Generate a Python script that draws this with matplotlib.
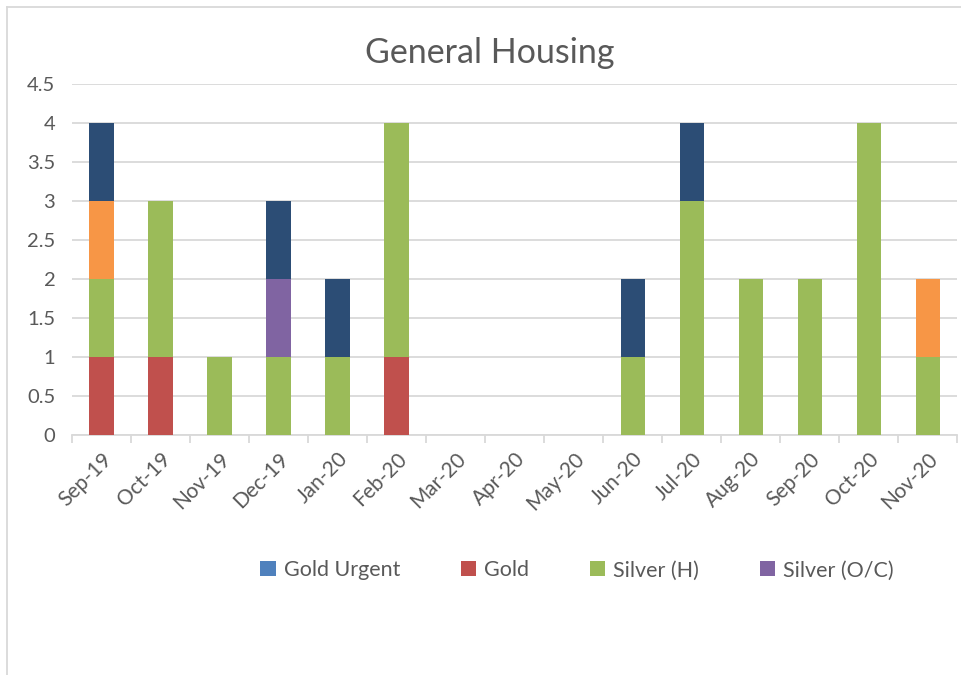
import matplotlib.pyplot as plt
import numpy as np
from matplotlib.lines import Line2D

plt.rcParams['font.family'] = ['Lato', 'DejaVu Sans']

months = ['Sep-19', 'Oct-19', 'Nov-19', 'Dec-19', 'Jan-20', 'Feb-20', 'Mar-20', 'Apr-20',
          'May-20', 'Jun-20', 'Jul-20', 'Aug-20', 'Sep-20', 'Oct-20', 'Nov-20']
gold_urgent = [0, 0, 0, 0, 0, 0, 0, 0, 0, 0, 0, 0, 0, 0, 0]
gold        = [1, 1, 0, 0, 0, 1, 0, 0, 0, 0, 0, 0, 0, 0, 0]
silver_h    = [1, 2, 1, 1, 1, 3, 0, 0, 0, 1, 3, 2, 2, 4, 1]
silver_oc   = [0, 0, 0, 1, 0, 0, 0, 0, 0, 0, 0, 0, 0, 0, 0]
orange_vals = [1, 0, 0, 0, 0, 0, 0, 0, 0, 0, 0, 0, 0, 0, 1]
navy_vals   = [1, 0, 0, 1, 1, 0, 0, 0, 0, 1, 1, 0, 0, 0, 0]

series = [
    ('Gold Urgent', gold_urgent, '#4F81BD'),
    ('Gold', gold, '#C0504D'),
    ('Silver (H)', silver_h, '#9BBB59'),
    ('Silver (O/C)', silver_oc, '#8064A2'),
    ('_nolegend_', orange_vals, '#F79646'),
    ('_nolegend_', navy_vals, '#2C4D75'),
]

fig = plt.figure(figsize=(9.62, 6.75), dpi=100)
ax = fig.add_axes([0.0748, 0.3556, 0.9202, 0.52])

x = np.arange(len(months))
bottom = np.zeros(len(months))
for name, vals, col in series:
    vals = np.array(vals, dtype=float)
    ax.bar(x, vals, width=0.41, bottom=bottom, color=col, label=name, zorder=3)
    bottom += vals

ax.set_xlim(-0.5, len(months) - 0.5)
ax.set_ylim(0, 4.5)
ax.set_yticks(np.arange(0, 4.51, 0.5))
ax.set_yticklabels(['0', '0.5', '1', '1.5', '2', '2.5', '3', '3.5', '4', '4.5'])
ax.grid(axis='y', color='#D9D9D9', linewidth=1.3, zorder=0)
for s in ['top', 'right', 'left']:
    ax.spines[s].set_visible(False)
ax.spines['bottom'].set_color('#D9D9D9')
ax.spines['bottom'].set_linewidth(1.3)
ax.tick_params(axis='y', length=0, labelsize=14.5, labelcolor='#595959', pad=12)

ax.set_xticks(x)
ax.set_xticklabels(months, rotation=45, ha='right', rotation_mode='anchor')
ax.tick_params(axis='x', length=0, labelsize=15, labelcolor='#595959', pad=10)
ax.set_xticks(np.arange(-0.5, len(months)), minor=True)
ax.tick_params(axis='x', which='minor', length=6, color='#D9D9D9', width=1.3)

fig.text(0.509, 0.922, 'General Housing', ha='center', va='center', fontsize=24.5, color='#595959')

handles, labels = ax.get_legend_handles_labels()
leg = fig.legend(handles[:4], labels[:4], loc='center', bbox_to_anchor=(0.6, 0.155), ncol=4,
                 frameon=False, fontsize=15.5, handlelength=0.7, handleheight=0.7,
                 columnspacing=2.8, handletextpad=0.4)
for t in leg.get_texts():
    t.set_color('#595959')

# chart frame (only top and left edges visible in the crop)
fig.add_artist(Line2D([7 / 962, 1], [1 - 7 / 675, 1 - 7 / 675], color='#D9D9D9', lw=1.3))
fig.add_artist(Line2D([7 / 962, 7 / 962], [0, 1 - 7 / 675], color='#D9D9D9', lw=1.3))

fig.savefig('out.png', dpi=100)
